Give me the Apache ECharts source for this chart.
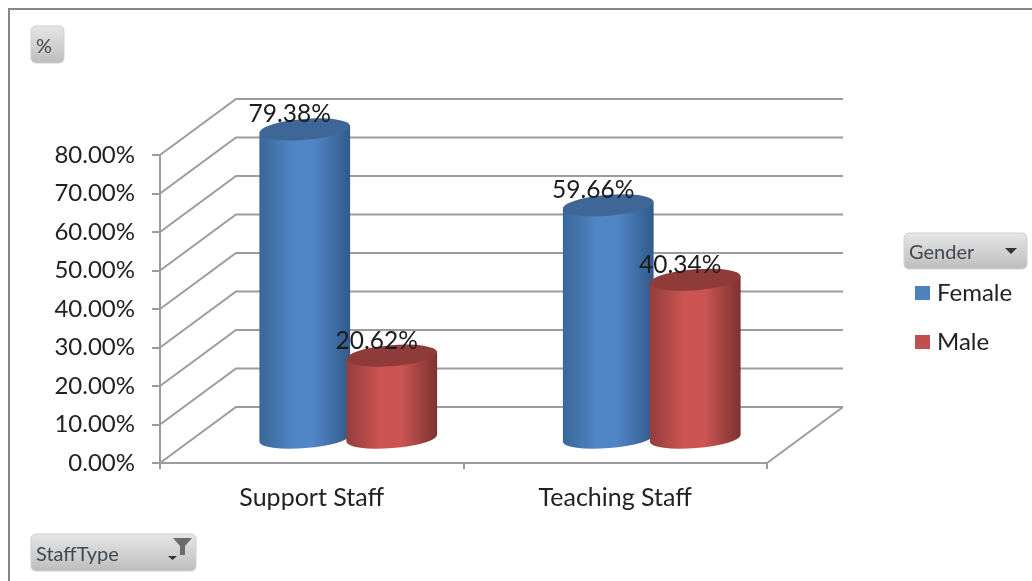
<!DOCTYPE html>
<html>
<head>
<meta charset="utf-8">
<style>html,body{margin:0;padding:0;background:#fff}#c{width:1032px;height:581px}</style>
<script src="https://cdn.jsdelivr.net/npm/echarts@6/dist/echarts.min.js"></script>
</head>
<body>
<div id="c"></div>
<script>
const categories = ['Support Staff', 'Teaching Staff'];
const femaleValues = [79.38, 59.66];
const maleValues = [20.62, 40.34];
const yTicks = [0, 10, 20, 30, 40, 50, 60, 70, 80];
const FONT = 'Lato';
const LINE = '#9c9c9c';

const chart = echarts.init(document.getElementById('c'), null, {renderer: 'canvas'});

function hgrad(a, b, c) {
  return new echarts.graphic.LinearGradient(0, 0, 1, 0, [
    {offset: 0, color: a}, {offset: 0.38, color: b}, {offset: 0.6, color: b}, {offset: 1, color: c}
  ]);
}

function wallItem(params, api) {
  const v = api.value(1);
  const cs = params.coordSys;
  const y = api.coord([0, v])[1];
  const dx = 76, dy = -56;
  const kids = [{
    type: 'polyline',
    shape: {points: [[cs.x, y], [cs.x + dx, y + dy], [cs.x + cs.width + dx, y + dy]]},
    style: {stroke: LINE, lineWidth: 2, fill: null}
  }];
  if (v === 0) {
    kids.push({
      type: 'line',
      shape: {x1: cs.x + cs.width, y1: y, x2: cs.x + cs.width + dx, y2: y + dy},
      style: {stroke: LINE, lineWidth: 2}
    });
  }
  return {type: 'group', children: kids};
}

function cylinder(side, colors) {
  return function (params, api) {
    const cat = api.value(0), val = api.value(1);
    const top = api.coord([cat, val]);
    const base = api.coord([cat, 0]);
    const cx = top[0] + 36.5 + side * 43.5;
    const yt = top[1] - 28, yb = base[1] - 28;
    const r = 45.5, ry = 9.5, t = 3.6, rot = -4.5;
    const body = `M${cx - r} ${yt + t} L${cx - r} ${yb + t} A${r} ${ry} ${rot} 0 0 ${cx + r} ${yb - t} L${cx + r} ${yt - t} Z`;
    const lid = `M${cx - r} ${yt + t} A${r} ${ry} ${rot} 0 1 ${cx + r} ${yt - t} A${r} ${ry} ${rot} 0 1 ${cx - r} ${yt + t} Z`;
    return {
      type: 'group',
      children: [
        {type: 'path', shape: {pathData: body, layout: 'cover', x: cx - r, y: yt - t, width: 2 * r, height: yb + ry + 2 * t - yt},
          style: {fill: hgrad(colors[0], colors[1], colors[2])}},
        {type: 'path', shape: {pathData: lid, layout: 'cover', x: cx - r, y: yt - ry - 1, width: 2 * r, height: 2 * ry + 2},
          style: {fill: colors[3]}},
        {type: 'text', z2: 100, x: cx - 15, y: yt - 15,
          style: {text: val.toFixed(2) + '%', fill: '#1c1c1c', font: `24.5px ${FONT}`, align: 'center', verticalAlign: 'middle'}}
      ]
    };
  };
}

function button(x, y, w, h, label, extra) {
  return {
    type: 'group',
    children: [
      {type: 'rect', shape: {x, y, width: w, height: h, r: 5},
        style: {fill: new echarts.graphic.LinearGradient(0, 0, 0, 1, [
          {offset: 0, color: '#e6e6e6'}, {offset: 1, color: '#bdbdbd'}]), stroke: '#cfcfcf', lineWidth: 1}},
      {type: 'text', x: x + 5, y: y + h / 2 + 2,
        style: {text: label, fill: '#404850', font: `20px ${FONT}`, verticalAlign: 'middle'}}
    ].concat(extra || [])
  };
}

chart.setOption({
  animation: false,
  backgroundColor: '#fff',
  grid: {left: 160, top: 155, width: 607, height: 308},
  xAxis: {
    type: 'category', data: categories,
    axisLine: {lineStyle: {color: LINE, width: 2}},
    axisTick: {show: true, length: 6, lineStyle: {color: LINE, width: 2}},
    axisLabel: {color: '#222', fontFamily: FONT, fontSize: 25, margin: 22}
  },
  yAxis: {
    type: 'value', min: 0, max: 80, interval: 10,
    axisLine: {show: true, lineStyle: {color: LINE, width: 2}},
    axisTick: {show: true, length: 8, lineStyle: {color: LINE, width: 2}},
    splitLine: {show: false},
    axisLabel: {color: '#222', fontFamily: FONT, fontSize: 24, margin: 25, padding: [3, 0, 0, 0], formatter: v => v.toFixed(2) + '%'}
  },
  legend: {
    show: true, orient: 'vertical', left: 910, top: 276,
    itemWidth: 15, itemHeight: 14, itemGap: 25,
    data: [{name: 'Female', icon: 'rect'}, {name: 'Male', icon: 'rect'}],
    textStyle: {color: '#222', fontFamily: FONT, fontSize: 24, padding: [0, 0, 0, 2]}
  },
  series: [
    {type: 'custom', name: 'walls', silent: true, clip: false, z: 1,
      data: yTicks.map(v => [0, v]), encode: {x: 0, y: 1}, renderItem: wallItem},
    {type: 'custom', name: 'Female', clip: false, z: 2, itemStyle: {color: '#4f81bd'},
      data: femaleValues.map((v, i) => [i, v]), encode: {x: 0, y: 1},
      renderItem: cylinder(-1, ['#3a679a', '#5285c6', '#305a8a', '#3e6798'])},
    {type: 'custom', name: 'Male', clip: false, z: 3, itemStyle: {color: '#c0504d'},
      data: maleValues.map((v, i) => [i, v]), encode: {x: 0, y: 1},
      renderItem: cylinder(1, ['#933d3b', '#cc5553', '#7c3230', '#8e3b39'])}
  ],
  graphic: {elements: [
    {type: 'rect', shape: {x: 9, y: 9, width: 1200, height: 800}, style: {fill: null, stroke: '#868686', lineWidth: 2}, silent: true},
    button(31, 26, 33, 37, '%'),
    button(904, 233, 123, 36, 'Gender', [
      {type: 'polygon', shape: {points: [[1005, 248], [1017, 248], [1011, 254]]}, style: {fill: '#333'}}
    ]),
    button(31, 534, 165, 37, 'StaffType', [
      {type: 'polygon', shape: {points: [[173, 538], [192, 538], [185, 546], [185, 555], [180, 555], [180, 546]]}, style: {fill: '#6b6b6b'}},
      {type: 'polygon', shape: {points: [[168, 556], [177, 556], [172.5, 560]]}, style: {fill: '#333'}}
    ])
  ]}
});
</script>
</body>
</html>
